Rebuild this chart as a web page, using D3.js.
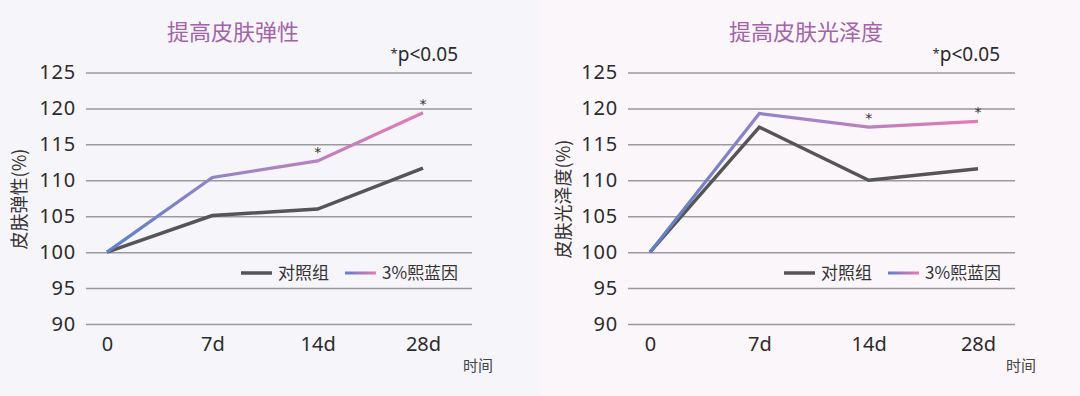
<!DOCTYPE html>
<html>
<head>
<meta charset="utf-8">
<script src="https://cdn.jsdelivr.net/npm/d3@7"></script>
<style>
  body { margin: 0; background: #f6f5fa; }
  svg text { font-family: "Noto Sans CJK SC", "Noto Sans", sans-serif; }
</style>
</head>
<body>
<div id="chart"></div>
<script>
// data
var days = ['0', '7d', '14d', '28d'];
var yTicks = [90, 95, 100, 105, 110, 115, 120, 125];
var seriesNames = ['对照组', '3%熙蓝因'];

var elasticityControl = [100, 105.1, 106.0, 111.7];
var elasticityTreat = [100, 110.4, 112.7, 119.4];
var glossControl = [100, 117.4, 110.0, 111.6];
var glossTreat = [100, 119.3, 117.4, 118.2];

var starDays = ['14d', '28d'];

var width = 1080;
var height = 396;

var svg = d3.select('#chart').append('svg')
    .attr('width', width)
    .attr('height', height);

// two backgrounds
svg.append('rect').attr('x', 0).attr('y', 0).attr('width', 540).attr('height', height).attr('fill', '#f6f5fa');
svg.append('rect').attr('x', 540).attr('y', 0).attr('width', 540).attr('height', height).attr('fill', '#fbf6fa');

var panels = [
    { id: 'a', title: '提高皮肤弹性', yLabel: '皮肤弹性(%)', control: elasticityControl, treat: elasticityTreat,
      gridL: 86, gridR: 472, xL: 107, xR: 423, titleX: 233, pX: 458, yLabelX: 20, legendX: 241 },
    { id: 'b', title: '提高皮肤光泽度', yLabel: '皮肤光泽度(%)', control: glossControl, treat: glossTreat,
      gridL: 628, gridR: 1015, xL: 650, xR: 978, titleX: 806, pX: 1000, yLabelX: 564, legendX: 784 }
];

var y = d3.scaleLinear().domain([90, 125]).range([324, 72.5]);

panels.forEach(function(p) {
    var x = d3.scalePoint().domain(days).range([p.xL, p.xR]);
    var g = svg.append('g');

    // gradient for treatment line
    var grad = svg.append('defs').append('linearGradient')
        .attr('id', 'grad-' + p.id)
        .attr('gradientUnits', 'userSpaceOnUse')
        .attr('x1', p.xL).attr('x2', p.xR).attr('y1', 0).attr('y2', 0);
    grad.append('stop').attr('offset', '0%').attr('stop-color', '#5e80c8');
    grad.append('stop').attr('offset', '45%').attr('stop-color', '#a184c6');
    grad.append('stop').attr('offset', '100%').attr('stop-color', '#e47ab4');

    // y axis + grid
    var yAxis = g.append('g')
        .attr('transform', 'translate(' + p.gridL + ',0)')
        .call(d3.axisLeft(y).tickValues(yTicks).tickSize(-(p.gridR - p.gridL)).tickPadding(10));
    yAxis.select('.domain').remove();
    yAxis.selectAll('.tick line').attr('stroke', '#9a999e').attr('stroke-width', 1.5);
    yAxis.selectAll('.tick text').attr('font-size', 20).attr('fill', '#2b2b2b')
        .attr('letter-spacing', 0.8)
        .style('font-family', '"Noto Sans", sans-serif');

    // x labels
    var xAxis = g.append('g')
        .attr('transform', 'translate(0,324)')
        .call(d3.axisBottom(x).tickSize(0).tickPadding(13));
    xAxis.select('.domain').remove();
    xAxis.selectAll('.tick text').attr('font-size', 20).attr('fill', '#2b2b2b')
        .style('font-family', '"Noto Sans", sans-serif');

    g.append('text')
        .attr('x', p.gridR + 6).attr('y', 371)
        .attr('text-anchor', 'middle')
        .attr('font-size', 15).attr('fill', '#444')
        .text('时间');

    // title
    g.append('text')
        .attr('x', p.titleX).attr('y', 40)
        .attr('text-anchor', 'middle')
        .attr('font-size', 22).attr('fill', '#a463a8')
        .text(p.title);

    var pt = g.append('text')
        .attr('x', p.pX).attr('y', 61)
        .attr('text-anchor', 'end')
        .attr('font-size', 19).attr('fill', '#2b2b2b')
        .style('font-family', '"Noto Sans", sans-serif');
    pt.append('tspan').attr('font-size', 13).attr('dy', -3).text('*');
    pt.append('tspan').attr('dy', 3).text('p<0.05');

    // y label
    g.append('text')
        .attr('transform', 'translate(' + (p.yLabelX + 6) + ',' + 199 + ') rotate(-90)')
        .attr('text-anchor', 'middle')
        .attr('font-size', 18).attr('fill', '#333')
        .text(p.yLabel);

    var line = d3.line()
        .x(function(d, i) { return x(days[i]); })
        .y(function(d) { return y(d); });

    g.append('path')
        .datum(p.control)
        .attr('d', line)
        .attr('fill', 'none')
        .attr('stroke', '#555558')
        .attr('stroke-width', 3.5);

    g.append('path')
        .datum(p.treat)
        .attr('d', line)
        .attr('fill', 'none')
        .attr('stroke', 'url(#grad-' + p.id + ')')
        .attr('stroke-width', 3.2);

    // significance stars
    g.selectAll('.star')
        .data(starDays)
        .enter().append('text')
        .attr('x', function(d) { return x(d); })
        .attr('y', function(d) { return y(p.treat[days.indexOf(d)]) - 4; })
        .attr('text-anchor', 'middle')
        .attr('font-size', 14).attr('fill', '#333')
        .style('font-family', '"DejaVu Sans", sans-serif')
        .text('*');

    // legend
    var lg = g.append('g').attr('transform', 'translate(' + p.legendX + ',273)');
    var lgrad = svg.append('defs').append('linearGradient')
        .attr('id', 'lgrad-' + p.id)
        .attr('x1', '0%').attr('x2', '100%');
    lgrad.append('stop').attr('offset', '0%').attr('stop-color', '#5e80c8');
    lgrad.append('stop').attr('offset', '100%').attr('stop-color', '#e47ab4');

    lg.append('line').attr('x1', 0).attr('x2', 31).attr('y1', 0).attr('y2', 0)
        .attr('stroke', '#555558').attr('stroke-width', 3.5);
    lg.append('text').attr('x', 37).attr('y', 6).attr('font-size', 17).attr('fill', '#333').text(seriesNames[0]);
    lg.append('rect').attr('x', 104).attr('y', -1.5).attr('width', 31).attr('height', 3)
        .attr('fill', 'url(#lgrad-' + p.id + ')');
    lg.append('text').attr('x', 141).attr('y', 6).attr('font-size', 17).attr('fill', '#333').text(seriesNames[1]);
});
</script>
</body>
</html>
